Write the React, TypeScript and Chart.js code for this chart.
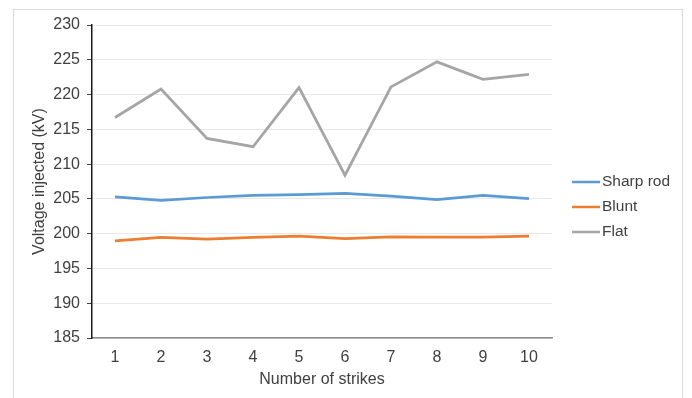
import React, { useEffect, useRef } from "react";
import { Chart, registerables } from "chart.js";

Chart.register(...registerables);

const strikes = ["1", "2", "3", "4", "5", "6", "7", "8", "9", "10"];
const sharpRod = [205.3, 204.8, 205.2, 205.5, 205.6, 205.8, 205.4, 204.9, 205.5, 205.05];
const blunt = [198.95, 199.45, 199.2, 199.45, 199.65, 199.3, 199.55, 199.5, 199.5, 199.65];
const flat = [216.7, 220.8, 213.7, 212.5, 221.0, 208.4, 221.1, 224.7, 222.2, 222.9];

const seriesNames = ["Sharp rod", "Blunt", "Flat"];
const seriesColors = ["#5B9BD5", "#ED7D31", "#A5A5A5"];

const yMin = 185;
const yMax = 230;
const yStep = 5;

const FONT = "'Liberation Sans', Arial, sans-serif";
const TEXT = "#404040";

const legendPlugin = {
  id: "sideLegend",
  afterDraw(chart: any) {
    const { ctx, chartArea } = chart;
    const x0 = chartArea.right + 20;
    const yStart = chartArea.top + 157;
    ctx.save();
    chart.data.datasets.forEach((ds: any, i: number) => {
      const y = yStart + i * 25;
      ctx.strokeStyle = ds.borderColor;
      ctx.lineWidth = 2.5;
      ctx.beginPath();
      ctx.moveTo(x0, y);
      ctx.lineTo(x0 + 28, y);
      ctx.stroke();
      ctx.fillStyle = TEXT;
      ctx.font = `15.5px ${FONT}`;
      ctx.textBaseline = "middle";
      ctx.textAlign = "left";
      ctx.fillText(ds.label, x0 + 30, y);
    });
    ctx.restore();
  },
};

export default function App() {
  const ref = useRef<HTMLCanvasElement | null>(null);

  useEffect(() => {
    if (!ref.current) return;
    const data = [sharpRod, blunt, flat];
    const chart = new Chart(ref.current, {
      type: "line",
      data: {
        labels: strikes,
        datasets: seriesNames.map((name, i) => ({
          label: name,
          data: data[i],
          borderColor: seriesColors[i],
          backgroundColor: seriesColors[i],
          borderWidth: 2.75,
          pointRadius: 0,
          tension: 0,
          fill: false,
        })),
      },
      options: {
        responsive: false,
        animation: false,
        devicePixelRatio: 1,
        layout: { padding: { left: 0, right: 140, top: 25, bottom: 0 } },
        plugins: {
          legend: { display: false },
          tooltip: { enabled: false },
        },
        scales: {
          x: {
            type: "category",
            offset: true,
            grid: { display: false, drawTicks: false },
            border: { display: true, color: "#8A8A8A", width: 1.5 },
            ticks: {
              color: TEXT,
              font: { family: FONT, size: 16 },
              padding: 10,
              maxRotation: 0,
            },
            title: {
              display: true,
              text: "Number of strikes",
              color: TEXT,
              font: { family: FONT, size: 16 },
              padding: { top: 0, bottom: 8.4 },
            },
            afterFit(scale: any) {
              scale.height = 60;
            },
          },
          y: {
            min: yMin,
            max: yMax,
            grid: {
              color: "#E8E8E8",
              lineWidth: 1,
              drawTicks: true,
              tickLength: 5,
              tickColor: "#404040",
            },
            border: { display: true, color: "#1A1A1A", width: 1.5 },
            ticks: {
              stepSize: yStep,
              color: TEXT,
              font: { family: FONT, size: 16 },
              padding: 7,
            },
            title: {
              display: true,
              text: "Voltage injected (kV)",
              color: TEXT,
              font: { family: FONT, size: 16 },
              padding: { top: 30.4, bottom: 0 },
            },
            afterFit(scale: any) {
              scale.width = 92;
            },
          },
        },
      },
      plugins: [legendPlugin],
    });
    return () => chart.destroy();
  }, []);

  return (
    <div
      style={{
        position: "fixed",
        left: 0,
        top: 0,
        width: 692,
        height: 398,
        background: "#ffffff",
        overflow: "hidden",
      }}
    >
      <div
        style={{
          position: "absolute",
          left: 13,
          top: 9,
          width: 670,
          height: 420,
          border: "1px solid #D9D9D9",
          boxSizing: "border-box",
        }}
      />
      <canvas
        ref={ref}
        width={692}
        height={398}
        style={{ position: "absolute", left: 0, top: 0, width: 692, height: 398 }}
      />
    </div>
  );
}
